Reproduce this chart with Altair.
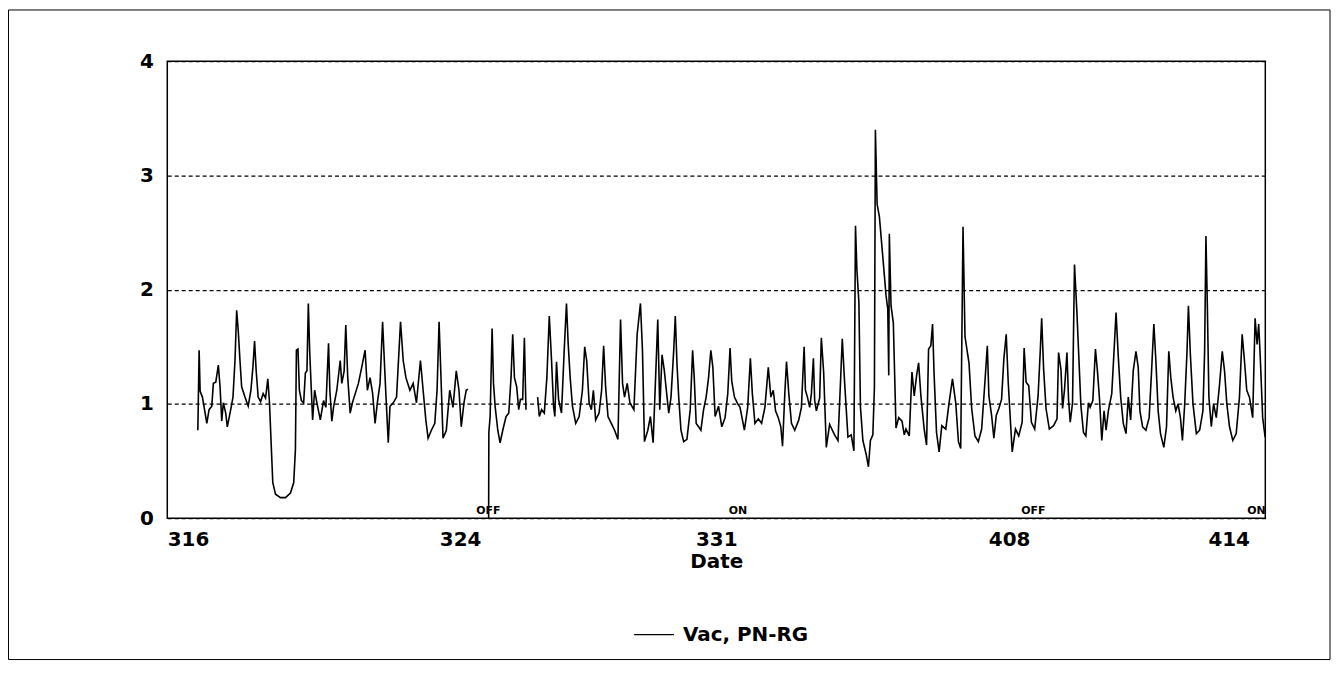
import altair as alt
import pandas as pd

SERIES = "Vac, PN-RG"
START = pd.Timestamp("1996-03-16")
END_DATE = (1996, 4, 15)
TICK_DATES = [(1996, 3, 16), (1996, 3, 24), (1996, 3, 31), (1996, 4, 8), (1996, 4, 14)]
Y_TICKS = [0, 1, 2, 3, 4]

# segment A (days since 3/16 00:00, value)
DAYS_A = [0.835, 0.870, 0.898, 0.960, 1.034, 1.080, 1.142, 1.216, 1.259, 1.325,
          1.395, 1.442, 1.488, 1.531, 1.597, 1.640, 1.733, 1.795, 1.850, 1.896,
          1.939, 1.986, 2.032, 2.122, 2.211, 2.285, 2.339, 2.385, 2.429, 2.483,
          2.549, 2.619, 2.685, 2.747, 2.793, 2.837, 2.883, 2.957, 3.093, 3.229,
          3.365, 3.454, 3.501, 3.528, 3.571, 3.609, 3.664, 3.726, 3.773, 3.816,
          3.854, 3.890, 3.936, 3.971, 4.026, 4.088, 4.181, 4.270, 4.333, 4.406,
          4.442, 4.496, 4.542, 4.632, 4.725, 4.768, 4.833, 4.877, 4.931, 4.997,
          5.059,
          5.086, 5.222, 5.312, 5.405, 5.467, 5.541, 5.611, 5.677, 5.739, 5.813,
          5.883, 5.930, 5.976, 6.038, 6.085, 6.174, 6.264, 6.373, 6.446, 6.520,
          6.629, 6.718, 6.808, 6.917, 6.990, 7.064, 7.126, 7.216, 7.309, 7.371,
          7.426, 7.472, 7.534, 7.624, 7.717, 7.806, 7.896, 7.970, 8.032, 8.106,
          8.168, 8.214]
VAC_A = [0.77, 1.47, 1.11, 1.06, 0.92, 0.83, 0.95, 0.98, 1.18, 1.19,
         1.34, 1.15, 0.85, 1.01, 0.92, 0.80, 0.95, 1.06, 1.38, 1.82,
         1.64, 1.38, 1.15, 1.06, 0.98, 1.12, 1.32, 1.55, 1.29, 1.06,
         1.02, 1.09, 1.05, 1.22, 1.01, 0.66, 0.31, 0.21, 0.18, 0.18,
         0.22, 0.31, 0.60, 1.47, 1.48, 1.12, 1.03, 1.01, 1.27, 1.29,
         1.88, 1.47, 1.12, 0.86, 1.12, 1.01, 0.86, 1.03, 0.97, 1.53,
         1.12, 0.85, 0.97, 1.12, 1.38, 1.18, 1.29, 1.69, 1.23, 0.92,
         1.01,
         1.04, 1.18, 1.32, 1.47, 1.12, 1.23, 1.09, 0.83, 1.01, 1.18,
         1.72, 1.38, 1.06, 0.66, 0.98, 1.01, 1.06, 1.72, 1.38, 1.23,
         1.12, 1.18, 1.01, 1.38, 1.12, 0.86, 0.70, 0.77, 0.83, 1.12,
         1.72, 1.29, 0.70, 0.77, 1.12, 0.97, 1.29, 1.12, 0.80, 1.01,
         1.12, 1.13]

# segment B (after the OFF drop)
DAYS_B = [8.780, 8.786, 8.821, 8.875, 8.913, 8.957, 9.030, 9.093, 9.166, 9.256,
          9.330, 9.392, 9.438, 9.485, 9.547, 9.602, 9.648, 9.710, 9.757, 9.800]
VAC_B = [0.00, 0.75, 0.89, 1.66, 1.18, 0.98, 0.77, 0.66, 0.77, 0.89,
         0.92, 1.23, 1.61, 1.23, 1.15, 0.95, 1.04, 1.04, 1.58, 0.95]

# segment C (rest of the record)
DAYS_C = [10.118, 10.165, 10.227, 10.301, 10.371, 10.437, 10.499, 10.554, 10.589, 10.635,
          10.690, 10.771, 10.845, 10.907, 10.953, 11.008, 11.070, 11.160, 11.253, 11.342,
          11.405, 11.459, 11.525, 11.587, 11.642, 11.704, 11.797, 11.867, 11.922, 11.976,
          12.041, 12.131, 12.221, 12.313, 12.384, 12.439, 12.493, 12.566, 12.640, 12.749,
          12.838, 12.928, 12.983, 13.037, 13.129, 13.200, 13.274, 13.336, 13.401, 13.456,
          13.518, 13.581, 13.635, 13.701, 13.763, 13.837, 13.880, 13.926, 13.973, 14.035,
          14.109, 14.198, 14.288, 14.353, 14.397, 14.451, 14.517, 14.579, 14.653, 14.723,
          14.789, 14.851, 14.906, 14.968, 15.061,
          15.150, 15.240, 15.314, 15.376, 15.422, 15.496, 15.586, 15.648, 15.768, 15.858,
          15.931, 15.985, 16.056, 16.149, 16.238, 16.328, 16.421, 16.491, 16.557, 16.619,
          16.693, 16.763, 16.810, 16.872, 16.918, 16.981, 17.054, 17.144, 17.253, 17.326,
          17.400, 17.435, 17.490, 17.552, 17.598, 17.653, 17.688,
          17.734, 17.824, 17.870, 17.933, 18.006, 18.096, 18.232, 18.325, 18.387, 18.442,
          18.504, 18.597, 18.686, 18.760, 18.803, 18.841, 18.896, 18.939, 19.005, 19.094,
          19.157, 19.211, 19.277, 19.320, 19.347, 19.394, 19.456, 19.549, 19.638, 19.685,
          19.712, 19.728, 19.774, 19.837, 19.910, 19.984, 20.074, 20.136,
          20.182, 20.272, 20.346, 20.408, 20.473, 20.528, 20.590, 20.680, 20.745, 20.800,
          20.862, 20.909, 20.952, 21.017, 21.088, 21.162, 21.270, 21.360, 21.453, 21.542,
          21.616, 21.678, 21.741, 21.795, 21.861, 21.904, 21.978, 22.067, 22.160, 22.250,
          22.339, 22.405, 22.448, 22.522, 22.584, 22.649, 22.720, 22.794, 22.856, 22.921,
          22.976, 23.038, 23.085, 23.174, 23.264, 23.357, 23.411, 23.465, 23.536, 23.610,
          23.699, 23.792, 23.854, 23.890, 23.944, 24.009, 24.099, 24.216, 24.309, 24.352,
          24.417, 24.461, 24.515, 24.581, 24.624, 24.670, 24.733, 24.787, 24.853, 24.896,
          24.961, 25.032, 25.097, 25.168,
          25.214, 25.288, 25.359, 25.413, 25.467, 25.533, 25.595, 25.650, 25.712, 25.805,
          25.867, 25.922, 25.984, 26.049, 26.120, 26.194, 26.256, 26.321, 26.392, 26.466,
          26.528, 26.574, 26.648, 26.738, 26.827, 26.893, 26.955, 27.010, 27.072, 27.137,
          27.227, 27.301, 27.363, 27.418, 27.480, 27.554, 27.616, 27.681, 27.736, 27.798,
          27.861, 27.899, 27.953, 28.024, 28.117, 28.206, 28.296, 28.342, 28.378, 28.416,
          28.459, 28.525, 28.587, 28.661, 28.750, 28.824, 28.886, 28.949, 29.022, 29.112,
          29.205, 29.294, 29.368, 29.430, 29.493, 29.566, 29.656, 29.721, 29.776, 29.819,
          29.866, 29.928, 29.995]
VAC_C = [1.06, 0.89, 0.95, 0.92, 1.23, 1.77, 1.38, 0.98, 0.89, 1.37,
         1.04, 0.92, 1.47, 1.88, 1.53, 1.23, 0.98, 0.83, 0.89, 1.12,
         1.50, 1.38, 1.01, 0.95, 1.12, 0.86, 0.92, 1.12, 1.51, 1.15,
         0.89, 0.83, 0.77, 0.69, 1.74, 1.18, 1.06, 1.18, 1.01, 0.95,
         1.61, 1.88, 1.47, 0.67, 0.77, 0.89, 0.66, 1.18, 1.74, 0.95,
         1.43, 1.29, 1.12, 0.92, 1.06, 1.47, 1.77, 1.35, 1.06, 0.77,
         0.67, 0.69, 0.95, 1.47, 1.23, 0.83, 0.80, 0.77, 0.95, 1.06,
         1.23, 1.47, 1.32, 0.89, 0.98,
         0.80, 0.88, 1.09, 1.49, 1.20, 1.06, 1.00, 0.97, 0.77, 0.97,
         1.40, 1.09, 0.83, 0.87, 0.83, 0.97, 1.32, 1.06, 1.12, 0.94,
         0.88, 0.80, 0.63, 1.09, 1.37, 1.09, 0.83, 0.77, 0.86, 0.97,
         1.50, 1.12, 1.06, 0.97, 1.09, 1.40, 1.03,
         0.94, 1.05, 1.58, 1.28, 0.62, 0.82, 0.73, 0.68, 1.14, 1.57,
         1.20, 0.71, 0.73, 0.59, 2.56, 2.18, 1.89, 0.97, 0.68, 0.56,
         0.45, 0.68, 0.73, 1.14, 3.40, 2.75, 2.64, 2.29, 1.95, 1.83,
         1.25, 2.49, 1.86, 1.71, 0.79, 0.88, 0.85, 0.73,
         0.78, 0.72, 1.28, 1.07, 1.25, 1.36, 1.07, 0.78, 0.64, 1.48,
         1.51, 1.70, 1.25, 0.75, 0.58, 0.81, 0.78, 1.01, 1.22, 1.01,
         0.67, 0.61, 2.55, 1.59, 1.45, 1.36, 0.96, 0.72, 0.67, 0.78,
         1.19, 1.51, 1.07, 0.90, 0.70, 0.90, 0.96, 1.04, 1.39, 1.61,
         1.19, 0.84, 0.58, 0.78, 0.72, 0.84, 1.49, 1.19, 1.16, 0.84,
         0.78, 1.07, 1.48, 1.75, 1.30, 0.96, 0.78, 0.81, 0.87, 1.45,
         1.30, 0.96, 1.13, 1.45, 1.04, 0.84, 1.01, 2.22, 1.80, 1.48,
         0.99, 0.75, 0.72, 1.01,
         0.97, 1.03, 1.48, 1.29, 1.06, 0.68, 0.94, 0.77, 0.94, 1.09,
         1.46, 1.80, 1.41, 1.06, 0.83, 0.74, 1.06, 0.86, 1.29, 1.46,
         1.32, 0.94, 0.80, 0.77, 0.88, 1.29, 1.70, 1.38, 0.94, 0.74,
         0.62, 0.80, 1.46, 1.23, 1.06, 0.94, 1.00, 0.88, 0.68, 1.00,
         1.46, 1.86, 1.43, 1.00, 0.74, 0.77, 0.94, 1.46, 2.47, 1.87,
         1.06, 0.80, 1.00, 0.88, 1.17, 1.46, 1.29, 1.00, 0.80, 0.68,
         0.74, 1.06, 1.61, 1.38, 1.12, 1.06, 0.88, 1.75, 1.52, 1.70,
         1.38, 0.88, 0.71]

EVENT_DAYS = [8.77, 15.59, 23.66, 29.76]
EVENT_TEXT = ["OFF", "ON", "OFF", "ON"]

FONT = "DejaVu Sans"


def to_time(days):
    t = START + pd.to_timedelta(pd.Series(days, dtype=float), unit="D")
    return t.dt.round("s").dt.strftime("%Y-%m-%dT%H:%M:%S")


def segment(days, vals, name):
    n = min(len(days), len(vals))
    return pd.DataFrame({
        "time": to_time(days[:n]),
        "vac": vals[:n],
        "segment": name,
        "series": SERIES,
    })


data = pd.concat([segment(DAYS_A, VAC_A, "A"),
                  segment(DAYS_B, VAC_B, "B"),
                  segment(DAYS_C, VAC_C, "C")], ignore_index=True)

events = pd.DataFrame({"time": to_time(EVENT_DAYS), "label": EVENT_TEXT})

W, H = 1103, 459


def dt(t):
    return alt.DateTime(year=t[0], month=t[1], date=t[2])


x_scale = alt.Scale(domain=[dt((1996, 3, 16)), dt(END_DATE)], nice=False)
y_scale = alt.Scale(domain=[0, 4], nice=False, zero=True)

x_axis = alt.Axis(values=[dt(t) for t in TICK_DATES], format="%-m%d", formatType="time",
                  grid=False, ticks=False, domain=False, labelFont=FONT, labelFontSize=20,
                  labelFontWeight="bold", labelColor="black", labelPadding=11,
                  title="Date", titleFont=FONT, titleFontSize=20, titleFontWeight="bold",
                  titleColor="black", titlePadding=3)
y_axis = alt.Axis(values=Y_TICKS, grid=True, gridDash=[4, 3], gridColor="black",
                  gridWidth=1.2, gridOpacity=1, ticks=False, domain=False,
                  labelFont=FONT, labelFontSize=20, labelFontWeight="bold",
                  labelColor="black", labelPadding=14, title=None)

line = alt.Chart(data).mark_line(strokeWidth=1.6).encode(
    x=alt.X("time:T", scale=x_scale, axis=x_axis),
    y=alt.Y("vac:Q", scale=y_scale, axis=y_axis),
    detail="segment:N",
    color=alt.Color("series:N", scale=alt.Scale(range=["black"]),
                    legend=alt.Legend(title=None, orient="none", legendX=468, legendY=555,
                                      symbolType="stroke", symbolSize=1600,
                                      symbolStrokeWidth=1.2, symbolStrokeColor="black",
                                      labelFont=FONT, labelFontSize=20,
                                      labelFontWeight="bold", labelColor="black",
                                      labelOffset=8, padding=0)),
)

labels = alt.Chart(events).mark_text(baseline="bottom", font=FONT, fontSize=11,
                                     fontWeight="bold", color="black").encode(
    x=alt.X("time:T"),
    y=alt.value(H - 2),
    text="label:N",
)

frame = alt.Chart(pd.DataFrame({"k": [0]})).mark_rect(
    fillOpacity=0, stroke="black", strokeWidth=1).encode(
    x=alt.value(-159.5), x2=alt.value(1168), y=alt.value(-51.5), y2=alt.value(601)
)

chart = alt.layer(line, labels, frame).properties(
    width=W, height=H,
    autosize=alt.AutoSizeParams(type="none"),
    padding={"left": 160, "top": 52, "right": 67, "bottom": 144},
    background="white",
).configure_view(stroke="black", strokeWidth=1.5)

chart.save("out.html", embed_options={"renderer": "svg", "actions": False})
